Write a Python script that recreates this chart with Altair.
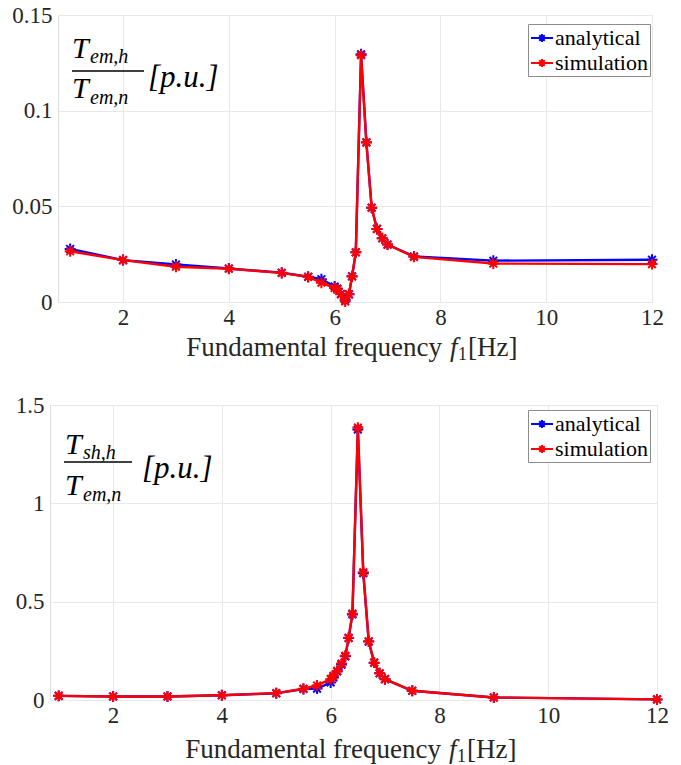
import altair as alt
import pandas as pd

# ---------------- data ----------------
freq = [1, 2, 3, 4, 5, 5.5, 5.75, 6, 6.05, 6.12, 6.2, 6.27, 6.33, 6.4,
        6.5, 6.6, 6.7, 6.8, 6.9, 7, 7.5, 9, 12]

tem_analytical = [0.0277, 0.0219, 0.0196, 0.0175, 0.0153, 0.0132, 0.0119, 0.0081,
                  0.0070, 0.0042, 0.0012, 0.0040, 0.0135, 0.0260, 0.1295, 0.0835,
                  0.0493, 0.0382, 0.0333, 0.0300, 0.0238, 0.0216, 0.0221]
tem_simulation = [0.0265, 0.0219, 0.0184, 0.0174, 0.0152, 0.0131, 0.0101, 0.0073,
                  0.0066, 0.0040, 0.0003, 0.0040, 0.0133, 0.0260, 0.1290, 0.0833,
                  0.0493, 0.0382, 0.0333, 0.0300, 0.0236, 0.0201, 0.0198]

tsh_analytical = [0.021, 0.018, 0.018, 0.024, 0.034, 0.056, 0.058, 0.089,
                  0.115, 0.145, 0.180, 0.222, 0.315, 0.435, 1.375, 0.645,
                  0.297, 0.190, 0.136, 0.106, 0.047, 0.013, 0.003]
tsh_simulation = [0.021, 0.018, 0.018, 0.024, 0.035, 0.057, 0.074, 0.106,
                  0.123, 0.148, 0.185, 0.225, 0.316, 0.439, 1.385, 0.650,
                  0.299, 0.190, 0.136, 0.106, 0.047, 0.013, 0.003]

series_names = ["analytical", "simulation"]
series_colors = ["#0000ff", "#ff0000"]
x_ticks = [2, 4, 6, 8, 10, 12]
tem_ticks = [0, 0.05, 0.1, 0.15]
tsh_ticks = [0, 0.5, 1, 1.5]

SERIF = "Liberation Serif"
ASTERISK = "M-1,0L1,0M0,-1L0,1M-0.7,-0.7L0.7,0.7M-0.7,0.7L0.7,-0.7"
LEG_SYM = ("M-1,0L1,0M-0.36,0L0.36,0M0,-0.36L0,0.36"
           "M-0.25,-0.25L0.25,0.25M-0.25,0.25L0.25,-0.25")


def long_df(a, s):
    n = len(freq)
    return pd.DataFrame({
        "f": freq * 2,
        "v": a + s,
        "series": [series_names[0]] * n + [series_names[1]] * n,
    })


def panel(df, xdom, ydom, yticks, yfmt, width, height, legx, legy, texts, title_dy, ta):
    xenc = alt.X("f:Q", scale=alt.Scale(domain=xdom, nice=False, zero=False),
                 axis=alt.Axis(values=x_ticks, title=None, grid=True,
                               labelFont=SERIF, labelFontSize=23, labelFlush=False,
                               labelColor="#262626", labelPadding=4,
                               ticks=False, domain=False, gridColor="#e8e8e8"))
    yenc = alt.Y("v:Q", scale=alt.Scale(domain=ydom, nice=False),
                 axis=alt.Axis(values=yticks, format=yfmt, title=None, grid=True,
                               labelFont=SERIF, labelFontSize=23, labelFlush=False,
                               labelColor="#262626", labelPadding=6,
                               ticks=False, domain=False, gridColor="#e8e8e8"))
    cenc = alt.Color("series:N",
                     scale=alt.Scale(domain=series_names, range=series_colors),
                     legend=alt.Legend(orient="none", legendX=legx, legendY=legy,
                                       title=None, symbolType=LEG_SYM,
                                       symbolSize=484, symbolStrokeWidth=2,
                                       labelFont=SERIF, labelFontSize=22,
                                       labelColor="#000000", labelOffset=1,
                                       fillColor="white", strokeColor="#8c8c8c",
                                       padding=2, rowPadding=2, cornerRadius=0))
    layers = []
    for name in series_names:
        base = alt.Chart(df).transform_filter(alt.datum.series == name)
        layers.append(base.mark_line(strokeWidth=2.4).encode(x=xenc, y=yenc, color=cenc))
        layers.append(base.mark_point(shape=ASTERISK, filled=False, size=120,
                                      strokeWidth=2, opacity=1)
                      .encode(x=xenc, y=yenc, color=cenc))
    ann = alt.Chart(alt.Data(values=[{"k": 0}]))
    for t in texts:
        kind = t[0]
        if kind == "rule":
            _, x1, x2, y = t
            layers.append(ann.mark_rule(color="black", strokeWidth=1.3).encode(
                x=alt.value(x1), x2=alt.value(x2), y=alt.value(y)))
        else:
            _, txt, x, y, size, style = t
            layers.append(ann.mark_text(text=txt, font=SERIF, fontSize=size,
                                        fontStyle=style, align="left",
                                        baseline="alphabetic", color="black")
                          .encode(x=alt.value(x), y=alt.value(y)))
    # x-axis title built from pieces
    a = ta
    yb = height + title_dy
    layers.append(ann.mark_text(text="Fundamental frequency", font=SERIF, fontSize=27,
                                align="right", baseline="alphabetic", color="#262626")
                  .encode(x=alt.value(a), y=alt.value(yb)))
    layers.append(ann.mark_text(text="f", font=SERIF, fontSize=27, fontStyle="italic",
                                align="left", baseline="alphabetic", color="#262626")
                  .encode(x=alt.value(a + 8), y=alt.value(yb)))
    layers.append(ann.mark_text(text="1", font=SERIF, fontSize=18,
                                align="left", baseline="alphabetic", color="#262626")
                  .encode(x=alt.value(a + 16), y=alt.value(yb + 4)))
    layers.append(ann.mark_text(text="[Hz]", font=SERIF, fontSize=27,
                                align="left", baseline="alphabetic", color="#262626")
                  .encode(x=alt.value(a + 26), y=alt.value(yb)))
    return alt.layer(*layers).properties(width=width, height=height)


top = panel(long_df(tem_analytical, tem_simulation), [0.77, 12], [0, 0.15],
            tem_ticks, ".2~f", 594, 287, 478, 9,
            [("text", "T", 14, 43, 30, "italic"),
             ("text", "em,h", 32, 48, 20, "italic"),
             ("rule", 14, 86, 56),
             ("text", "T", 14, 83, 30, "italic"),
             ("text", "em,n", 32, 89, 20, "italic"),
             ("text", "[p.u.]", 90, 72, 31, "italic")], 54, 384)

bottom = panel(long_df(tsh_analytical, tsh_simulation), [0.84, 12], [0, 1.5],
               tsh_ticks, ".1~f", 607, 295, 478, 5,
               [("text", "T", 15, 49, 30, "italic"),
                ("text", "sh,h", 33, 54, 20, "italic"),
                ("rule", 14, 82, 57),
                ("text", "T", 15, 90, 30, "italic"),
                ("text", "em,n", 33, 96, 20, "italic"),
                ("text", "[p.u.]", 92, 73, 31, "italic")], 58, 391)

spacer = alt.Chart(alt.Data(values=[{"k": 0}])).mark_point(opacity=0).encode(
    x=alt.value(0), y=alt.value(0)).properties(
    width=8, height=287, view=alt.ViewBackground(strokeOpacity=0))

top_row = alt.hconcat(spacer, top, spacing=0, bounds="flush")

chart = alt.concat(top_row, bottom, columns=1, spacing=28).resolve_scale(
    color="independent").resolve_legend(color="independent").configure_view(
    stroke="#8c8c8c", strokeWidth=1).configure(
    background="white", padding={"left": 11, "top": 3, "right": 5, "bottom": 5})

chart.save("out.html", embed_options={"renderer": "svg", "actions": False})
